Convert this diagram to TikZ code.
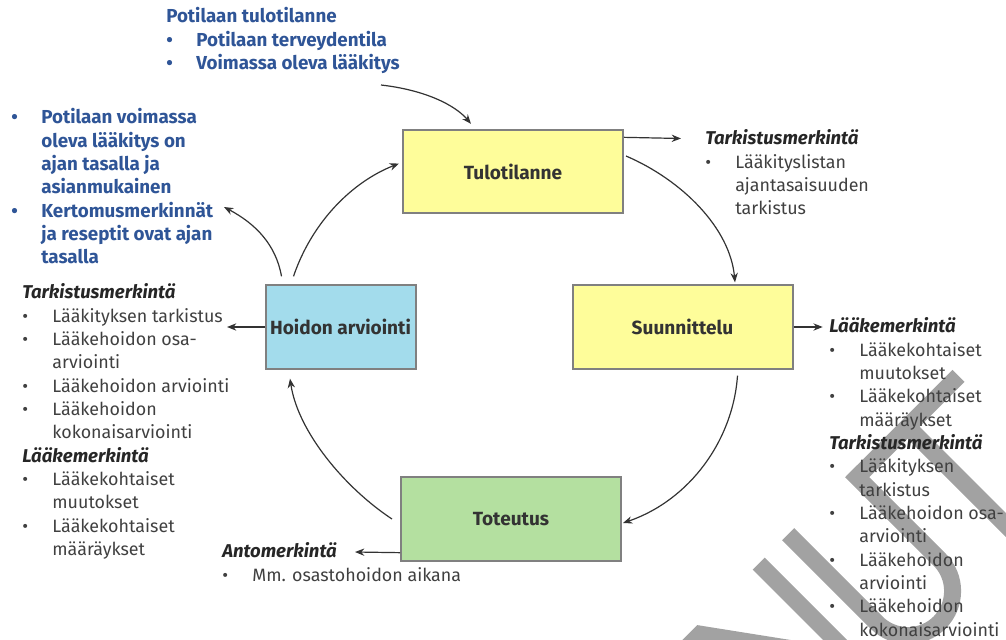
\documentclass[tikz,border=0pt]{standalone}
\usepackage{fontspec}
\setmainfont{Fira Sans}
\usetikzlibrary{arrows.meta,calc}
\definecolor{blueT}{HTML}{2F5597}
\definecolor{bodyC}{HTML}{404040}
\definecolor{headC}{HTML}{262626}
\definecolor{boxTxt}{HTML}{333333}
\definecolor{boxLine}{HTML}{808080}
\definecolor{fillY}{HTML}{FEFD9A}
\definecolor{fillB}{HTML}{A3DCEC}
\definecolor{fillG}{HTML}{B4E0A0}
\definecolor{arrC}{HTML}{333333}
\definecolor{wmC}{HTML}{A2A2A2}
\newcommand\bodyfont{\fontsize{13.4pt}{17.5pt}\selectfont}
\newcommand\bl[1]{\makebox[22.6pt][l]{•}#1}
\newcommand\cl[1]{\hspace*{22.6pt}#1}
\newcommand\hd[1]{{\color{headC}\fontsize{13.9pt}{17.5pt}\selectfont\bfseries\itshape #1}}
\begin{document}
\begin{tikzpicture}[x=0.75pt,y=-0.75pt,
  box/.style={draw=boxLine, line width=1.5pt, inner sep=0pt, minimum height=62.5pt,
    text=boxTxt, font=\fontsize{14.3pt}{16pt}\selectfont\bfseries},
  arr/.style={draw=arrC, line width=0.9pt, -{Stealth[length=7pt,width=5.5pt]}},
  txt/.style={anchor=north west, inner sep=0pt, align=left, text=bodyC, font=\bodyfont},
  btxt/.style={txt, text=blueT, font=\fontsize{14.1pt}{17.5pt}\selectfont\bfseries}]
\useasboundingbox (0,0) rectangle (1006,639);
% watermark (letter coordinates, rotated 45 degrees)
\begin{scope}[x={(0.53033pt,0.53033pt)}, y={(-0.53033pt,0.53033pt)}, fill=wmC, draw=wmC]
  \fill (20,-1110) -- (20,-935) -- (51,-935) -- (129.5,-1043.3) -- (129.5,-935)
     -- (146.5,-935) -- (146.5,-1110) -- (129.5,-1110) -- (129.5,-1077)
     -- (37,-949.7) -- (37,-1110) -- cycle;
  \draw[line width=12.75pt] (179.6,-935) -- (179.6,-1060)
     arc[start angle=180, end angle=360, radius=44.55] -- (268.7,-935);
  \draw[line width=12.75pt] (262,-943.5) -- (412,-943.5);
  \draw[line width=12.75pt] (340,-943.5) -- (340,-1130);
\end{scope}
% boxes
\node[box, fill=fillY, minimum width=165pt] (tulo) at (513,171.5) {Tulotilanne};
\node[box, fill=fillY, minimum width=165pt] (suun) at (682.5,327) {Suunnittelu};
\node[box, fill=fillG, minimum width=165pt] (tot) at (511,519) {Toteutus};
\node[box, fill=fillB, minimum width=112.5pt] (hoid) at (340.5,327) {Hoidon arviointi};
% text blocks
\node[btxt] (blueTop) at (166,6.2) {Potilaan tulotilanne\strut\\
  \bl{Potilaan terveydentila}\strut\\
  \bl{Voimassa oleva lääkitys}\strut};
\node[btxt] (blueLeft) at (11,107.2) {\bl{Potilaan voimassa}\strut\\
  \cl{oleva lääkitys on}\\ \cl{ajan tasalla ja}\\ \cl{asianmukainen}\\
  \bl{Kertomusmerkinnät}\\ \cl{ja reseptit ovat ajan}\\ \cl{tasalla}};
\node[txt] (trTark) at (705,128.2) {\hd{Tarkistusmerkintä}\strut\\
  \bl{Lääkityslistan}\\ \cl{ajantasaisuuden}\\ \cl{tarkistus}};
\node[txt] (lmTark) at (22,282.2) {\hd{Tarkistusmerkintä}\strut\\
  \bl{Lääkityksen tarkistus}\\ \bl{Lääkehoidon osa-}\\ \cl{arviointi}\\
  \bl{Lääkehoidon arviointi}\\ \bl{Lääkehoidon}\\ \cl{kokonaisarviointi}\\
  \hd{Lääkemerkintä}\\ \bl{Lääkekohtaiset}\\ \cl{muutokset}\\
  \bl{Lääkekohtaiset}\\ \cl{määräykset}};
\node[txt] (anto) at (222,541.2) {\hd{Antomerkintä}\strut\\
  \bl{Mm. osastohoidon aikana}};
\node[txt] (rLaake) at (829,316.2) {\hd{Lääkemerkintä}\strut\\
  \bl{Lääkekohtaiset}\\ \cl{muutokset}\\ \bl{Lääkekohtaiset}\\ \cl{määräykset}\\
  \hd{Tarkistusmerkintä}\\ \bl{Lääkityksen}\\ \cl{tarkistus}\\
  \bl{Lääkehoidon osa-}\\ \cl{arviointi}\\ \bl{Lääkehoidon}\\ \cl{arviointi}\\
  \bl{Lääkehoidon}\\ \cl{kokonaisarviointi}};
% free arrow ends
\coordinate (inStart) at (381,85);
\coordinate (tipTr) at (681,138.5);
\coordinate (tipR) at (822.7,327);
\coordinate (tipAnto) at (355,552);
\coordinate (tipL) at (227,327);
\coordinate (tipBlue) at (224,207);
% connectors
\draw[arr] (inStart) .. controls (425,90) and (455,105) .. ($(tulo.north)+(-42,-5)$);
\draw[arr] ($(tulo.north east)+(0,8.5)$) -- (tipTr);
\draw[arr] ($(tulo.east)+(2,-15.5)$) .. controls (682,180) and (730,228) .. ($(suun.north)+(52.5,-2)$);
\draw[arr] (suun.east) -- (tipR);
\draw[arr] ($(suun.south)+(55,6)$) .. controls (733,440) and (690,500) .. ($(tot.east)+(1,4)$);
\draw[arr] ($(tot.south west)+(0,-9)$) -- (tipAnto);
\draw[arr] ($(tot.west)+(-8,0)$) .. controls (345,488) and (298,432) .. ($(hoid.south)+(-50.5,9)$);
\draw[arr] (hoid.west) -- (tipL);
\draw[arr] ($(hoid.north)+(-47,-8)$) .. controls (312,222) and (352,182) .. ($(tulo.west)+(-3,-8)$);
\draw[arr] ($(hoid.north)+(-59,-8)$) .. controls (276,245) and (256,224) .. (tipBlue);
\end{tikzpicture}
\end{document}
